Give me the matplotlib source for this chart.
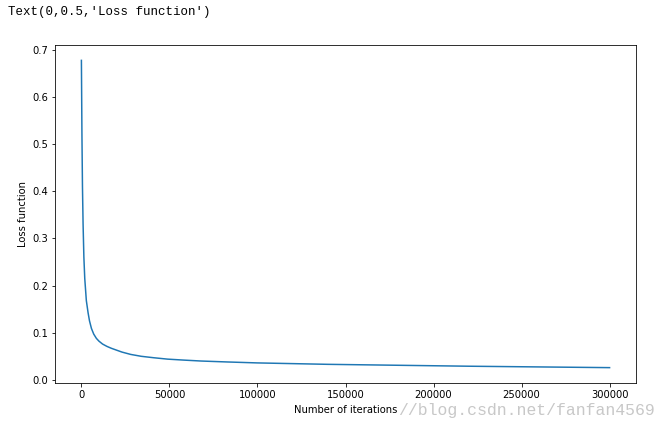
import matplotlib
matplotlib.use("Agg")
import matplotlib.pyplot as plt

iterations = [0, 300, 600, 950, 1400, 1900, 2800, 3800, 4600, 5700, 7000, 8500, 10000,
              12000, 14500, 17000, 20000, 23000, 28000, 34000, 41000, 49000, 58000,
              68000, 83000, 100000, 140000, 180000, 220000, 260000, 300000]
loss = [0.677, 0.52, 0.41, 0.33, 0.26, 0.215, 0.168, 0.142, 0.125, 0.109, 0.097, 0.088,
        0.082, 0.076, 0.071, 0.067, 0.063, 0.059, 0.054, 0.050, 0.047, 0.044, 0.042,
        0.040, 0.038, 0.036, 0.033, 0.031, 0.029, 0.0275, 0.026]

DPI = 72
fig = plt.figure(figsize=(670 / DPI, 429 / DPI), dpi=DPI)
ax = fig.add_axes([55 / 670, (429 - 383) / 429, 581 / 670, 338 / 429])
ax.plot(iterations, loss, color="#1f77b4", linewidth=1.5)
ax.set_xlabel("Number of iterations", fontsize=10, labelpad=5)
ax.set_ylabel("Loss function", fontsize=10)
ax.tick_params(labelsize=10)

fig.text(8 / 670, 1 - 12 / 429, "Text(0,0.5,'Loss function')", fontsize=12.5,
         family=["Liberation Mono", "DejaVu Sans Mono"], va="center", ha="left",
         color="black")
fig.text(398 / 670, 1 - 411 / 429, "//blog.csdn.net/fanfan4569", fontsize=16.5,
         family=["Liberation Mono", "DejaVu Sans Mono"], va="center", ha="left",
         color="#c8c8c8")

fig.savefig("out.png", dpi=DPI)
